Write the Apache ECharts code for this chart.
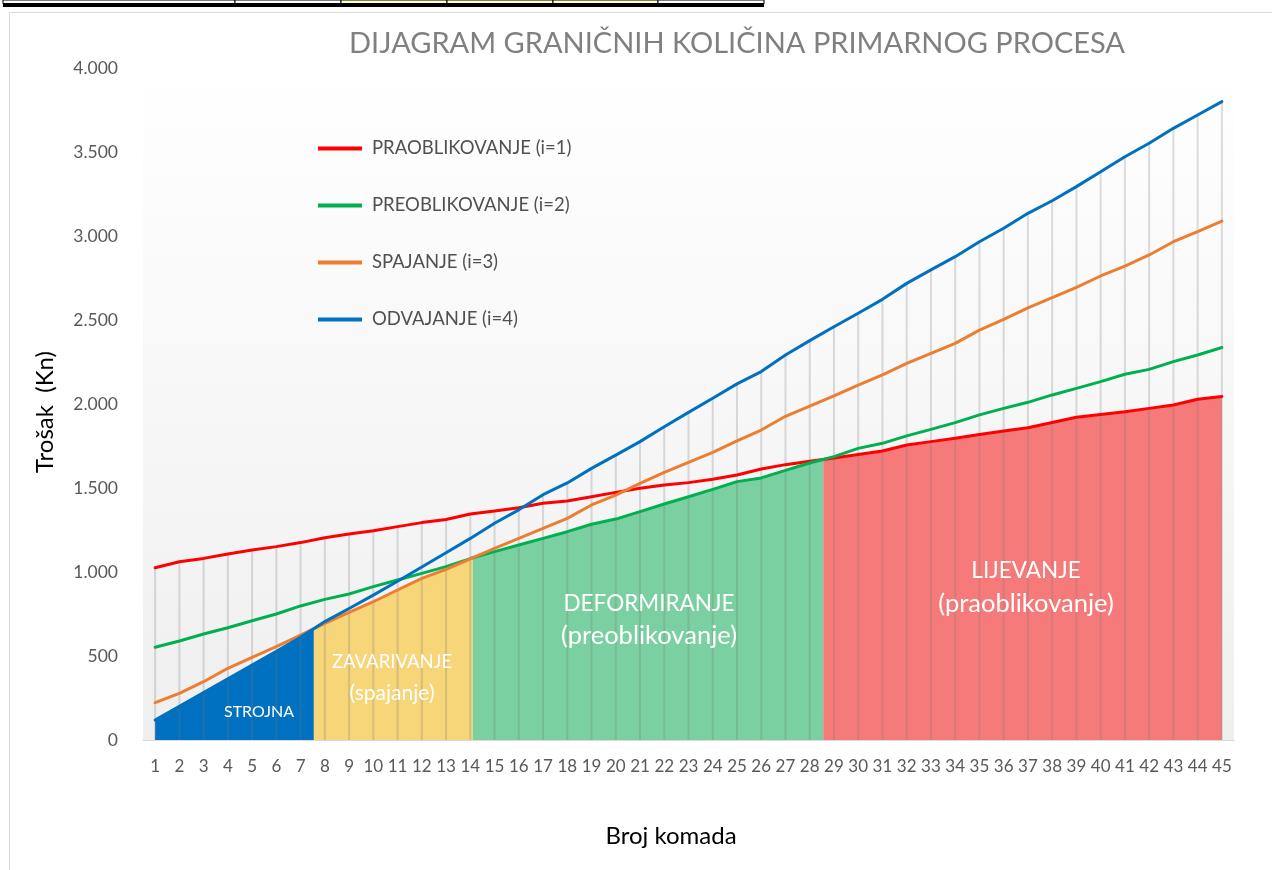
<!DOCTYPE html>
<html>
<head>
<meta charset="utf-8">
<script src="https://cdn.jsdelivr.net/npm/echarts@6/dist/echarts.min.js"></script>
<style>
  html, body { margin: 0; padding: 0; background: #ffffff; }
  #chart { width: 1272px; height: 870px; }
</style>
</head>
<body>
<div id="chart"></div>
<script>
// Broj komada (quantity of pieces)
const quantities = [1,2,3,4,5,6,7,8,9,10,11,12,13,14,15,16,17,18,19,20,21,22,23,24,25,26,27,28,29,30,31,32,33,34,35,36,37,38,39,40,41,42,43,44,45];

// Trošak (Kn) per primary process
const praoblikovanje = [1025,1061,1081,1107,1131,1151,1175,1204,1226,1246,1270,1294,1313,1345,1363,1383,1409,1423,1448,1474,1498,1518,1532,1552,1577,1613,1639,1659,1679,1700,1720,1756,1776,1796,1819,1839,1859,1890,1921,1938,1954,1974,1994,2028,2045];
const preoblikovanje = [552,589,631,668,710,750,798,837,869,913,952,992,1032,1080,1121,1161,1200,1240,1284,1315,1359,1405,1448,1492,1538,1560,1605,1649,1687,1736,1766,1810,1849,1889,1935,1974,2010,2054,2093,2133,2177,2206,2252,2292,2336];
const spajanje = [222,278,347,427,492,556,625,694,760,823,893,962,1016,1078,1141,1200,1260,1319,1399,1458,1528,1593,1653,1712,1780,1845,1927,1988,2048,2113,2173,2242,2302,2361,2440,2504,2572,2633,2694,2762,2821,2887,2966,3026,3089];
const odvajanje = [119,200,283,364,446,528,612,705,783,862,945,1030,1115,1200,1290,1370,1460,1530,1617,1696,1776,1865,1950,2034,2120,2193,2292,2377,2460,2540,2623,2718,2798,2877,2966,3046,3135,3210,3294,3383,3472,3552,3641,3720,3800];

const seriesNames = ['PRAOBLIKOVANJE (i=1)', 'PREOBLIKOVANJE (i=2)', 'SPAJANJE (i=3)', 'ODVAJANJE (i=4)'];
const lineColors = ['#FF0000', '#00B050', '#ED7D31', '#0070C0'];
const regionColors = ['#F67A7A', '#7AD0A0', '#F6D679', '#0070C0'];
const regionTitles = ['LIJEVANJE', 'DEFORMIRANJE', 'ZAVARIVANJE', 'STROJNA'];
const regionSubtitles = ['(praoblikovanje)', '(preoblikovanje)', '(spajanje)', ''];
const yTicks = [0, 500, 1000, 1500, 2000, 2500, 3000, 3500, 4000];

const chartTitle = 'DIJAGRAM GRANIČNIH KOLIČINA PRIMARNOG PROCESA';
const xTitle = 'Broj komada';
const yTitle = 'Trošak  (Kn)';

const curves = [praoblikovanje, preoblikovanje, spajanje, odvajanje];

// Split the lower envelope of all curves into runs, one per cheapest process,
// inserting the exact crossing points between consecutive quantities.
function lowerEnvelope(lines) {
  const n = lines[0].length;
  const runs = lines.map(() => []);
  const argmin = i => {
    let b = 0;
    lines.forEach((l, k) => { if (l[i] < lines[b][i]) b = k; });
    return b;
  };
  let owner = argmin(0);
  runs[owner].push([quantities[0], lines[owner][0]]);
  for (let i = 0; i < n - 1; i++) {
    let t0 = 0;
    for (;;) {
      let best = null;
      lines.forEach((l, k) => {
        if (k === owner) return;
        const d0 = l[i] - lines[owner][i];
        const d1 = l[i + 1] - lines[owner][i + 1];
        if (d1 < 0 && d0 !== d1) {
          const t = d0 / (d0 - d1);
          if (t > t0 + 1e-9 && t <= 1 && (!best || t < best.t)) best = { t, k };
        }
      });
      if (!best) break;
      const x = quantities[i] + (quantities[i + 1] - quantities[i]) * best.t;
      const y = lines[owner][i] + (lines[owner][i + 1] - lines[owner][i]) * best.t;
      runs[owner].push([x, y]);
      owner = best.k;
      runs[owner].push([x, y]);
      t0 = best.t;
    }
    runs[owner].push([quantities[i + 1], lines[owner][i + 1]]);
  }
  return runs;
}

const regions = lowerEnvelope(curves);
const dropTops = quantities.map((q, i) => [q, Math.max(...curves.map(c => c[i]))]);

const FONT = 'Lato';
const chart = echarts.init(document.getElementById('chart'), null, { renderer: 'canvas' });

const regionSeries = regions.map((pts, k) => ({
  name: 'region-' + k,
  type: 'line',
  xAxisIndex: 1,
  data: pts,
  symbol: 'none',
  silent: true,
  z: 2,
  lineStyle: { width: 0 },
  areaStyle: { color: regionColors[k], opacity: 1 }
}));

const lineSeries = curves.map((c, k) => ({
  name: seriesNames[k],
  type: 'line',
  xAxisIndex: 1,
  data: c.map((v, i) => [quantities[i], v]),
  symbol: 'none',
  z: 5,
  lineStyle: { color: lineColors[k], width: 3, cap: 'round', join: 'round' },
  itemStyle: { color: lineColors[k] }
}));

const dropSeries = {
  name: 'drop',
  type: 'custom',
  xAxisIndex: 1,
  silent: true,
  z: 3,
  encode: { x: 0, y: 1 },
  data: dropTops,
  renderItem: (params, api) => {
    const top = api.coord([api.value(0), api.value(1)]);
    const bot = api.coord([api.value(0), 0]);
    return {
      type: 'line',
      shape: { x1: top[0], y1: top[1], x2: bot[0], y2: bot[1] },
      style: { stroke: 'rgba(120,120,120,0.25)', lineWidth: 2 }
    };
  }
};

// Region captions
const labelSpecs = [
  { k: 3, x: 259, y: 712, size: 16 },
  { k: 2, x: 392, y: 662, size: 18.5, y2: 693, size2: 21 },
  { k: 1, x: 649, y: 604, size: 22.5, y2: 636, size2: 25.5 },
  { k: 0, x: 1026, y: 571, size: 22.5, y2: 604, size2: 25.5 }
];
const captionGraphics = [];
labelSpecs.forEach(s => {
  captionGraphics.push({
    type: 'text', x: s.x, y: s.y, silent: true, z: 100,
    style: { text: regionTitles[s.k], fill: '#ffffff', font: s.size + 'px ' + FONT, align: 'center', verticalAlign: 'middle' }
  });
  if (regionSubtitles[s.k]) {
    captionGraphics.push({
      type: 'text', x: s.x, y: s.y2, silent: true, z: 100,
      style: { text: regionSubtitles[s.k], fill: '#ffffff', font: s.size2 + 'px ' + FONT, align: 'center', verticalAlign: 'middle' }
    });
  }
});

// Spreadsheet cells showing above the chart object
const cellEdges = [3, 235, 341, 447, 553, 658, 764];
const cellFills = ['#ffffff', '#ffffff', '#FFFFCC', '#FFFFCC', '#FFFFCC', '#ffffff'];
const sheetGraphics = [];
cellFills.forEach((f, i) => {
  sheetGraphics.push({
    type: 'rect', silent: true, z: 0,
    shape: { x: cellEdges[i], y: 0, width: cellEdges[i + 1] - cellEdges[i], height: 4 },
    style: { fill: f, stroke: '#000000', lineWidth: 1 }
  });
});
sheetGraphics.push({
  type: 'rect', silent: true, z: 0,
  shape: { x: 3, y: 3, width: 761, height: 4 },
  style: { fill: '#000000' }
});

const option = {
  animation: false,
  backgroundColor: '#ffffff',
  textStyle: { fontFamily: FONT },
  graphic: [
    {
      type: 'rect', silent: true, z: -1,
      shape: { x: 9.5, y: 12.5, width: 1300, height: 900 },
      style: { fill: '#ffffff', stroke: '#d9d9d9', lineWidth: 1 }
    },
    ...sheetGraphics,
    {
      type: 'text', x: 737, y: 44, silent: true,
      style: { text: chartTitle, fill: '#808080', font: '29px ' + FONT, align: 'center', verticalAlign: 'middle' }
    },
    {
      type: 'text', x: 671, y: 836, silent: true,
      style: { text: xTitle, fill: '#000000', font: '24px ' + FONT, align: 'center', verticalAlign: 'middle' }
    },
    {
      type: 'text', x: 45, y: 412, rotation: Math.PI / 2, silent: true,
      style: { text: yTitle, fill: '#000000', font: '24px ' + FONT, align: 'center', verticalAlign: 'middle' }
    },
    ...captionGraphics
  ],
  legend: {
    data: seriesNames,
    orient: 'vertical',
    left: 318,
    top: 139,
    padding: 0,
    itemWidth: 44,
    itemHeight: 4,
    itemGap: 38,
    icon: 'rect',
    textStyle: { fontFamily: FONT, fontSize: 18.5, color: '#505050', padding: [0, 0, 0, 5] }
  },
  grid: {
    left: 143, right: 38, top: 68, bottom: 130,
    show: true,
    borderWidth: 0,
    backgroundColor: new echarts.graphic.LinearGradient(0, 0, 0, 1, [
      { offset: 0, color: '#ffffff' },
      { offset: 1, color: '#efefef' }
    ])
  },
  xAxis: [
    {
      type: 'category',
      data: quantities,
      boundaryGap: true,
      axisLine: { show: true, lineStyle: { color: '#d9d9d9', width: 1 } },
      axisTick: { show: false },
      axisLabel: { interval: 0, margin: 18, fontFamily: FONT, fontSize: 17, color: '#595959' },
      splitLine: { show: false }
    },
    {
      type: 'value',
      min: quantities[0] - 0.5,
      max: quantities[quantities.length - 1] + 0.5,
      show: false,
      splitLine: { show: false }
    }
  ],
  yAxis: {
    type: 'value',
    min: 0,
    max: 4000,
    interval: 500,
    axisLine: { show: false },
    axisTick: { show: false },
    splitLine: { show: false },
    axisLabel: {
      margin: 25,
      fontFamily: FONT, fontSize: 17.5, color: '#595959',
      formatter: v => yTicks.includes(v) ? String(v).replace(/\B(?=(\d{3})+(?!\d))/g, '.') : ''
    }
  },
  series: [...regionSeries, dropSeries, ...lineSeries]
};

chart.setOption(option);
</script>
</body>
</html>
